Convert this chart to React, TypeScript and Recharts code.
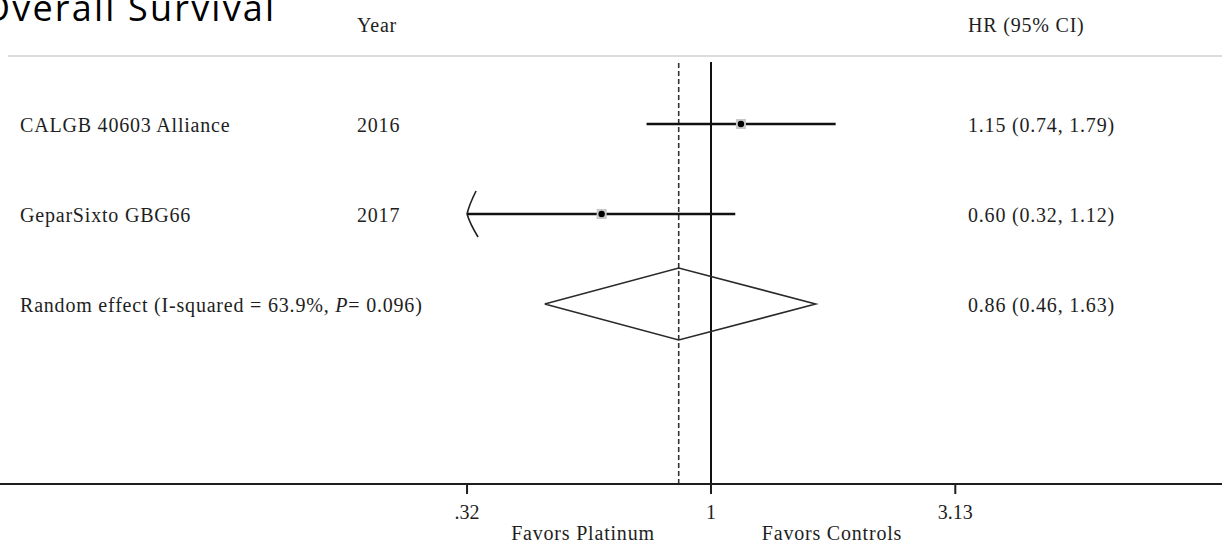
import React from "react";
import {
  ComposedChart,
  XAxis,
  YAxis,
  Scatter,
  ReferenceLine,
  Customized
} from "recharts";

// study rows
const studies = ["CALGB 40603 Alliance", "GeparSixto GBG66"];
const years = ["2016", "2017"];
const hr = [1.15, 0.6];
const lower = [0.74, 0.32];
const upper = [1.79, 1.12];
const arrowLeft = [false, true];

// pooled estimate
const pooledLabel = "Random effect (I-squared = 63.9%, ";
const pooledP = "0.096";
const pooledHr = 0.86;
const pooledLower = 0.46;
const pooledUpper = 1.63;

// x axis ticks (hazard ratio, log scale)
const tickValues = [0.32, 1, 3.13];
const tickLabels = [".32", "1", "3.13"];

const W = 1222;
const H = 543;
const SERIF = "'Liberation Serif', 'Times New Roman', serif";
const INK = "#1e1e1e";
const DIAMOND_HALF = 0.4;

const log = (v: number) => Math.log10(v);
const fmt = (v: number) => v.toFixed(2);
const ciText = (m: number, l: number, u: number) =>
  `${fmt(m)} (${fmt(l)}, ${fmt(u)})`;

if (typeof document !== "undefined") document.body.style.margin = "0";

const X_DOMAIN: [number, number] = [-711 / 493, 511 / 493];
const Y_DOMAIN: [number, number] = [1 - 62 / 90, 1 - 62 / 90 + 422 / 90];

const pointData = hr.map((v, i) => ({ x: log(v), y: i + 1 }));
const arrowData = lower
  .map((v, i) => ({ x: log(v), y: i + 1, on: arrowLeft[i] }))
  .filter((d) => d.on);
const pooledRow = studies.length + 1;
const diamondData = [
  { x: log(pooledLower), y: pooledRow },
  { x: log(pooledHr), y: pooledRow - DIAMOND_HALF },
  { x: log(pooledUpper), y: pooledRow },
  { x: log(pooledHr), y: pooledRow + DIAMOND_HALF },
  { x: log(pooledLower), y: pooledRow }
];
const labelData = [
  ...studies.map((s, i) => ({
    x: X_DOMAIN[0],
    y: i + 1,
    name: s,
    year: years[i],
    ci: ciText(hr[i], lower[i], upper[i]),
    pooled: false
  })),
  {
    x: X_DOMAIN[0],
    y: pooledRow,
    name: pooledLabel,
    year: "",
    ci: ciText(pooledHr, pooledLower, pooledUpper),
    pooled: true
  }
];

const textStyle = {
  fontFamily: SERIF,
  fontSize: 20,
  fill: INK,
  letterSpacing: 0.8
};

const PointShape = (props: any) => {
  const { cx, cy } = props;
  return (
    <g>
      <rect x={cx - 5} y={cy - 5} width={10} height={10} fill="#c8c8c8" />
      <circle cx={cx} cy={cy} r={3.2} fill="#000" />
    </g>
  );
};

const ArrowShape = (props: any) => {
  const { cx, cy } = props;
  return (
    <path
      d={`M ${cx + 9} ${cy - 23} Q ${cx + 2} ${cy - 9} ${cx} ${cy} Q ${cx + 3} ${cy + 10} ${cx + 11} ${cy + 23}`}
      fill="none"
      stroke={INK}
      strokeWidth={1.6}
    />
  );
};

const LabelShape = (props: any) => {
  const { cy, payload } = props;
  const y = cy + 8;
  return (
    <g>
      <text x={20} y={y} {...textStyle}>
        {payload.name}
        {payload.pooled && (
          <>
            <tspan fontStyle="italic">P</tspan>
            <tspan>= {pooledP})</tspan>
          </>
        )}
      </text>
      {payload.year && (
        <text x={357} y={y} {...textStyle}>
          {payload.year}
        </text>
      )}
      <text x={968} y={y} {...textStyle}>
        {payload.ci}
      </text>
    </g>
  );
};

const Empty = () => <g />;

const Decorations = () => (
  <g>
    <text
      x={-18}
      y={21}
      fontFamily="'Open Sans', 'Noto Sans', sans-serif"
      fontSize={36}
      letterSpacing={2.2}
      fill="#000"
    >
      Overall Survival
    </text>
    <line x1={8} x2={W} y1={56} y2={56} stroke="#dcdcdc" strokeWidth={2} />
    <text x={357} y={32} {...textStyle}>
      Year
    </text>
    <text x={968} y={32} {...textStyle}>
      HR (95% CI)
    </text>
    <text x={583} y={540} textAnchor="middle" {...textStyle}>
      Favors Platinum
    </text>
    <text x={832} y={540} textAnchor="middle" {...textStyle}>
      Favors Controls
    </text>
  </g>
);

export default function App() {
  return (
    <div style={{ width: W, height: H, background: "#fff" }}>
      <ComposedChart
        width={W}
        height={H}
        margin={{ top: 62, right: 0, bottom: 0, left: 0 }}
      >
        <XAxis
          type="number"
          dataKey="x"
          domain={X_DOMAIN}
          allowDataOverflow
          ticks={tickValues.map(log)}
          tickFormatter={(v: number) => {
            const i = tickValues.findIndex((t) => Math.abs(log(t) - v) < 1e-6);
            return i >= 0 ? tickLabels[i] : "";
          }}
          height={59}
          axisLine={{ stroke: INK, strokeWidth: 2 }}
          tickLine={{ stroke: INK, strokeWidth: 2 }}
          tickSize={10}
          tickMargin={11}
          tick={{ fontFamily: SERIF, fontSize: 20, fill: INK }}
        />
        <YAxis
          type="number"
          dataKey="y"
          domain={Y_DOMAIN}
          allowDataOverflow
          reversed
          hide
        />

        <ReferenceLine x={0} stroke="#111" strokeWidth={2} />
        <ReferenceLine
          x={log(pooledHr)}
          stroke="#333"
          strokeWidth={1.6}
          strokeDasharray="5 3"
        />

        {studies.map((s, i) => (
          <ReferenceLine
            key={s}
            segment={[
              { x: log(lower[i]), y: i + 1 },
              { x: log(upper[i]), y: i + 1 }
            ]}
            stroke="#111"
            strokeWidth={2.5}
          />
        ))}

        <Scatter
          data={diamondData}
          line={{ stroke: "#2a2a2a", strokeWidth: 1.6 }}
          shape={Empty}
          isAnimationActive={false}
        />
        <Scatter data={pointData} shape={PointShape} isAnimationActive={false} />
        <Scatter data={arrowData} shape={ArrowShape} isAnimationActive={false} />
        <Scatter data={labelData} shape={LabelShape} isAnimationActive={false} />

        <Customized component={Decorations} />
      </ComposedChart>
    </div>
  );
}
